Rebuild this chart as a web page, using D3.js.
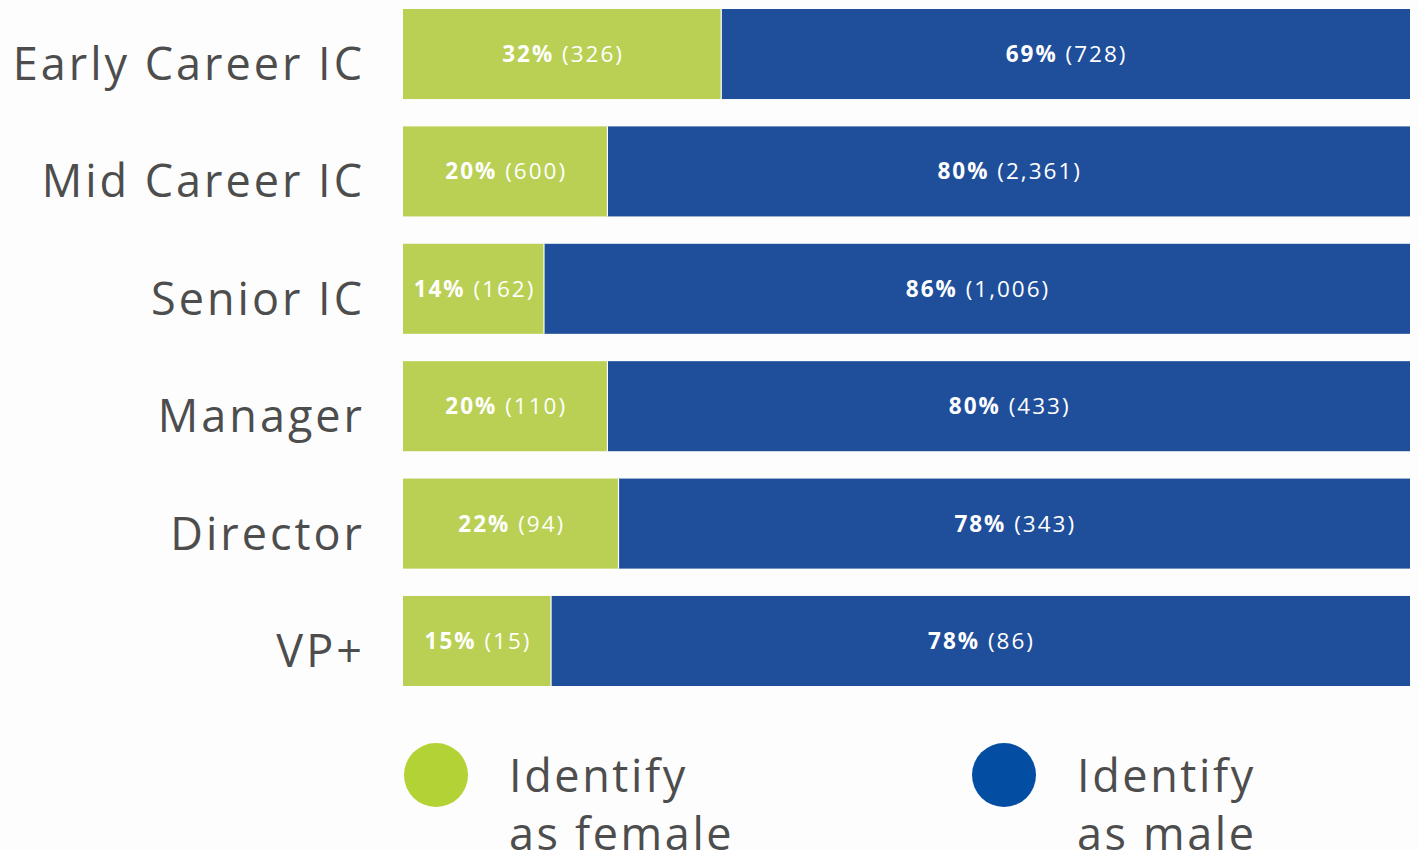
<!DOCTYPE html>
<html>
<head>
<meta charset="utf-8">
<script src="https://cdn.jsdelivr.net/npm/d3@7"></script>
<style>
  html, body { margin: 0; padding: 0; background: #fdfdfd; overflow: hidden; }
  svg { display: block; }
</style>
</head>
<body>
<div id="chart"></div>
<script>
// Horizontal 100% stacked bars: gender identity by career level

const LEVELS = ["Early Career IC", "Mid Career IC", "Senior IC", "Manager", "Director", "VP+"];
const FEMALE_PCT = [32, 20, 14, 20, 22, 15];
const FEMALE_N   = [326, 600, 162, 110, 94, 15];
const MALE_PCT   = [69, 80, 86, 80, 78, 78];
const MALE_N     = [728, 2361, 1006, 433, 343, 86];
// share of the bar given to the female segment
const FEMALE_SHARE = [31.6, 20.3, 14.0, 20.3, 21.4, 14.7];
const LEGEND = [["Identify", "as female"], ["Identify", "as male"]];

const BAR_COLORS = ["#b9d054", "#1f4f9b"];
const DOT_COLORS = ["#b2d235", "#034ea2"];
const TEXT = "#4d4d4d";
const FONT = "'Open Sans', 'Noto Sans', sans-serif";

const W = 1419, H = 850;

const svg = d3.select("#chart").append("svg")
  .attr("width", W).attr("height", H)
  .style("font-family", FONT);

/* ── Scales ── */
const y = d3.scaleBand().domain(LEVELS).range([9, 686])
  .paddingInner(0.233).paddingOuter(0);
const x = d3.scaleLinear().domain([0, 100]).range([403, 1410]);

const rows = LEVELS.map((lvl, i) => ({
  level: lvl,
  segs: [
    { x0: 0, x1: FEMALE_SHARE[i], pct: FEMALE_PCT[i], n: FEMALE_N[i], k: 0 },
    { x0: FEMALE_SHARE[i], x1: 100, pct: MALE_PCT[i], n: MALE_N[i], k: 1 },
  ],
}));

/* ── Category labels ── */
svg.append("g").selectAll("text")
  .data(LEVELS)
  .join("text")
  .attr("x", 365)
  .attr("y", d => y(d) + y.bandwidth() / 2 + 26)
  .attr("text-anchor", "end")
  .attr("font-size", 45)
  .attr("letter-spacing", 3)
  .attr("fill", TEXT)
  .text(d => d);

/* ── Bars ── */
const row = svg.append("g").selectAll("g")
  .data(rows)
  .join("g")
  .attr("transform", d => `translate(0,${y(d.level)})`);

row.selectAll("rect")
  .data(d => d.segs)
  .join("rect")
  .attr("x", d => x(d.x0))
  .attr("width", d => x(d.x1) - x(d.x0))
  .attr("height", y.bandwidth())
  .attr("fill", d => BAR_COLORS[d.k]);

// thin white divider between segments
row.append("line")
  .attr("x1", d => x(d.segs[0].x1)).attr("x2", d => x(d.segs[0].x1))
  .attr("y1", 0).attr("y2", y.bandwidth())
  .attr("stroke", "#fff").attr("stroke-width", 1.2);

const lbl = row.selectAll("text")
  .data(d => d.segs)
  .join("text")
  .attr("x", d => (x(d.x0) + x(d.x1)) / 2 + 1)
  .attr("y", y.bandwidth() / 2 + 8)
  .attr("text-anchor", "middle")
  .attr("font-size", 22.5)
  .attr("letter-spacing", 2)
  .attr("fill", "#fff");
lbl.append("tspan").attr("font-weight", 700).text(d => d.pct + "%");
lbl.append("tspan").attr("font-weight", 400).text(d => " (" + d3.format(",")(d.n) + ")");

/* ── Legend ── */
const leg = svg.append("g").selectAll("g")
  .data(LEGEND)
  .join("g")
  .attr("transform", (d, i) => `translate(${[436, 1004][i]},775)`);

leg.append("circle").attr("r", 32).attr("fill", (d, i) => DOT_COLORS[i]);

leg.append("text")
  .attr("x", 73)
  .attr("font-size", 45)
  .attr("letter-spacing", 2.6)
  .attr("fill", TEXT)
  .selectAll("tspan")
  .data(d => d)
  .join("tspan")
  .attr("x", 73)
  .attr("y", (d, j) => 17 + j * 58)
  .text(d => d);
</script>
</body>
</html>
